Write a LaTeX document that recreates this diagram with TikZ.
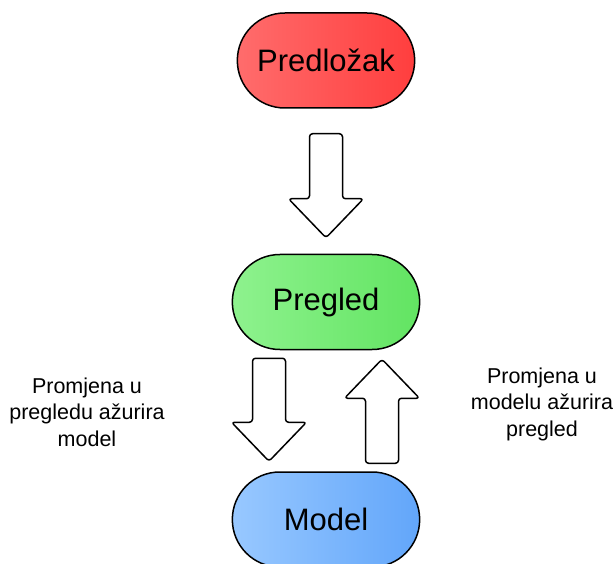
\documentclass[tikz,border=0pt]{standalone}
\usepackage{fontspec}
\setmainfont{Liberation Sans}
\usetikzlibrary{calc}
\usetikzlibrary{positioning}
\usetikzlibrary{shapes.misc}

\definecolor{tplLeft}{RGB}{255,108,108}
\definecolor{tplRight}{RGB}{255,62,62}
\definecolor{viewLeft}{RGB}{142,242,142}
\definecolor{viewRight}{RGB}{98,228,98}
\definecolor{modelLeft}{RGB}{152,200,255}
\definecolor{modelRight}{RGB}{98,166,250}

\begin{document}
\begin{tikzpicture}[x=1pt,y=-1pt,
        box/.style={rounded rectangle, draw=black, line width=1.5pt, minimum width=194pt, minimum height=95pt, font=\fontsize{31}{37}\selectfont},
        note/.style={align=center, font=\fontsize{21.5}{26.5}\selectfont},
        fat arrow/.style={draw=black, line width=1.5pt, fill=white, rounded corners=3pt, line join=round,
            to path={let \p1=(\tikztostart), \p2=(\tikztotarget), \n1={sign(\y2-\y1)} in
                ({\x1-\shaftW},\y1) -- ({\x1+\shaftW},\y1) -- ({\x1+\shaftW},{\y2-(\n1)*\headL})
                -- ({\x1+\headW},{\y2-(\n1)*\headL}) -- (\x2,\y2) -- ({\x1-\headW},{\y2-(\n1)*\headL})
                -- ({\x1-\shaftW},{\y2-(\n1)*\headL}) -- cycle}}]
        \def\shaftW{16.5pt}
        \def\headW{37.5pt}
        \def\headL{39pt}

        \useasboundingbox (0,0) rectangle (616,564);

        \node[box, minimum width=184pt, left color=tplLeft, right color=tplRight] (predlozak) at (326,60.5) {Predložak};
        \node[box, below=145pt of predlozak, left color=viewLeft, right color=viewRight] (pregled) {Pregled};
        \node[box, below=121pt of pregled, left color=modelLeft, right color=modelRight] (model) {Model};

        \coordinate (tplA) at ($(predlozak.south)+(0,25)$);
        \coordinate (tplB) at ($(pregled.north)+(0,-16)$);
        \coordinate (downA) at ($(pregled.south)+(-57,8)$);
        \coordinate (downB) at ($(model.north)+(-57,-10)$);
        \coordinate (upA) at ($(model.north)+(56,-8)$);
        \coordinate (upB) at ($(pregled.south)+(56,9)$);

        \draw[fat arrow] (tplA) to (tplB);
        \draw[fat arrow] (downA) to (downB);
        \draw[fat arrow] (upA) to (upB);

        \node[note] (viewNote) at (87,412) {Promjena u\\pregledu ažurira\\model};
        \node[note] (modelNote) at (542,404) {Promjena u\\modelu ažurira\\pregled};
    \end{tikzpicture}
\end{document}
